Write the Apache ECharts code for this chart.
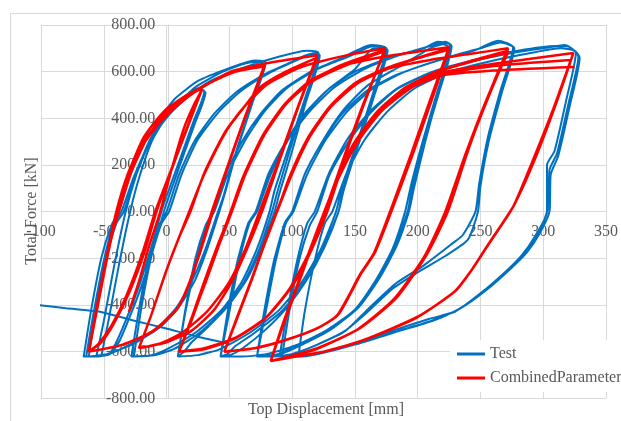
<!DOCTYPE html>
<html>
<head>
<meta charset="utf-8">
<script src="https://cdn.jsdelivr.net/npm/echarts@6/dist/echarts.min.js"></script>
<style>
  html, body { margin: 0; padding: 0; background: #fff; }
  #chart { width: 621px; height: 421px; }
</style>
</head>
<body>
<div id="chart"></div>
<script>
var seriesNames = ['Test', 'CombinedParameter'];

// test: first stray branch coming in from the left
var testStart = [[-105,-398],[-80,-414],[-54,-428],[-28,-464],[-1,-500],[25,-536],[50,-566]];

// test: one array per cycle (reload to peak, then unload to next corner)
var testCycles = [
  [[-52,-621],[-46,-460],[-38,-230],[-29,0],[-21,160],[-11,310],[3,430],[17,500],[26,530],[30,515],
   [21,380],[9,200],[-3,20],[-12,-150],[-22,-320],[-32,-460],[-40,-560],[-46,-612],[-56,-621]],
  [[-50,-470],[-42,-240],[-33,-10],[-24,160],[-14,300],[0,420],[15,495],[25,525],[31,510],
   [22,370],[10,190],[-1,20],[-10,-150],[-20,-320],[-30,-460],[-38,-560],[-46,-613],[-66,-621]],
  [[-60,-420],[-52,-200],[-44,-60],[-38,0],[-29,165],[-20,280],[-12,364],[0,440],[7,486],[25,560],[50,615],[70,648],[79,640],
   [68,460],[56,260],[46,70],[42,0],[33,-150],[23,-290],[11,-400],[-4,-490],[-24,-560],[-44,-605],[-54,-621],[-64,-621]],
  [[-58,-430],[-50,-210],[-42,-50],[-36,0],[-26,150],[-16,270],[-6,360],[6,440],[22,530],[45,600],[68,640],[78,632],
   [67,450],[55,250],[45,60],[41,0],[31,-160],[20,-300],[8,-410],[-8,-500],[-28,-566],[-45,-608],[-62,-621]],
  [[-56,-420],[-48,-200],[-40,-50],[-34,0],[-24,160],[-14,290],[-2,390],[14,480],[35,560],[60,615],[90,665],[112,690],[121,680],
   [110,480],[97,270],[86,90],[82,0],[72,-160],[60,-300],[44,-420],[24,-515],[2,-585],[-12,-615],[-28,-621]],
  [[-22,-420],[-14,-200],[-6,-60],[0,0],[10,160],[22,300],[38,420],[55,510],[75,580],[97,635],[114,675],[121,668],
   [110,470],[98,260],[88,80],[84,0],[74,-160],[62,-300],[46,-420],[26,-520],[6,-588],[-10,-616],[-26,-621]],
  [[-20,-410],[-12,-190],[-4,-50],[2,0],[12,160],[25,310],[42,430],[60,520],[82,595],[104,650],[118,680],[122,670],
   [111,470],[100,260],[90,80],[86,0],[76,-150],[64,-290],[48,-410],[30,-510],[20,-560],[14,-600],[9,-621]],
  [[15,-420],[23,-200],[31,-60],[37,0],[47,160],[60,300],[75,420],[92,520],[115,600],[140,660],[163,714],[175,700],
   [164,500],[152,300],[140,110],[135,0],[123,-160],[108,-300],[90,-420],[66,-520],[42,-590],[25,-615],[9,-621]],
  [[15,-430],[24,-210],[32,-50],[38,0],[48,150],[62,300],[78,430],[96,530],[120,610],[145,665],[165,710],[176,692],
   [165,490],[153,290],[141,100],[137,0],[125,-150],[110,-300],[92,-425],[70,-520],[55,-575],[48,-612],[43,-621]],
  [[49,-430],[57,-210],[65,-50],[71,0],[82,160],[96,300],[112,430],[130,530],[150,610],[165,700],[175,690],
   [164,480],[152,280],[141,90],[137,0],[126,-150],[112,-290],[96,-410],[78,-510],[62,-580],[52,-612],[43,-621]],
  [[49,-420],[57,-200],[65,-60],[71,0],[81,160],[95,300],[110,420],[128,520],[150,600],[180,665],[205,700],[216,728],[226,714],
   [216,520],[205,320],[195,120],[190,0],[180,-160],[166,-300],[150,-420],[127,-510],[102,-575],[80,-610],[60,-621],[43,-621]],
  [[50,-430],[58,-210],[66,-50],[72,0],[83,160],[97,310],[114,430],[133,530],[157,610],[185,670],[210,710],[222,728],[227,710],
   [217,510],[206,310],[196,110],[192,0],[182,-150],[168,-290],[152,-410],[130,-505],[105,-572],[88,-612],[72,-621]],
  [[78,-430],[86,-210],[94,-50],[100,0],[110,160],[124,300],[140,430],[160,540],[185,620],[210,700],[220,718],[226,700],
   [216,500],[206,300],[197,100],[193,0],[183,-150],[169,-290],[153,-410],[131,-505],[108,-570],[90,-612],[72,-621]],
  [[78,-420],[86,-200],[94,-60],[100,0],[110,160],[124,300],[140,420],[160,520],[185,590],[215,645],[245,690],[264,733],[276,704],
   [266,520],[256,320],[249,120],[246,0],[236,-100],[228,-135],[205,-230],[183,-306],[160,-420],[143,-508],[120,-570],[100,-610],[85,-621],[72,-621]],
  [[79,-430],[87,-210],[95,-50],[101,0],[112,160],[127,310],[144,430],[165,530],[190,600],[220,655],[250,700],[266,725],[277,700],
   [267,510],[257,310],[250,110],[248,0],[240,-120],[222,-190],[200,-260],[180,-330],[158,-440],[140,-520],[118,-575],[100,-612],[92,-621]],
  [[98,-420],[106,-200],[114,-60],[120,0],[130,160],[145,300],[162,420],[182,520],[208,590],[240,640],[275,680],[305,705],[317,714],[326,680],
   [318,470],[309,260],[303,200],[303,0],[293,-110],[283,-186],[270,-257],[250,-350],[230,-428],[209,-460],[180,-510],[143,-579],[120,-610],[105,-621],[90,-621]],
  [[96,-430],[104,-210],[112,-50],[118,0],[129,160],[144,310],[162,430],[184,530],[212,600],[245,650],[280,690],[310,710],[320,708],[328,664],
   [320,460],[311,250],[305,180],[304,20],[296,-100],[285,-180],[272,-250],[252,-345],[232,-420],[210,-470],[182,-515],[146,-575],[122,-608],[105,-621]],
  [[110,-430],[118,-210],[126,-50],[132,0],[143,160],[158,310],[176,430],[198,530],[226,600],[258,645],[290,680],[314,700],[325,690],[329,660],
   [321,450],[312,240],[306,160],[305,0],[297,-95],[287,-175],[274,-245],[255,-335],[234,-415],[212,-468],[185,-512],[150,-570],[125,-605],[110,-621]]
];

// combined parameter model
var combinedStart = [[-30,-430]];
var combinedCycles = [
  [[-22,-300],[-14,-150],[-5,0],[5,200],[14,360],[22,460],[28,520],
   [18,380],[4,180],[-8,0],[-18,-180],[-30,-350],[-42,-480],[-52,-560],[-62,-600]],
  [[-56,-430],[-48,-200],[-40,-10],[-30,170],[-18,320],[-2,430],[16,500],[28,525],
   [17,370],[3,170],[-9,0],[-20,-190],[-32,-360],[-44,-490],[-54,-565],[-62,-600]],
  [[-56,-420],[-48,-200],[-40,0],[-31,160],[-20,290],[-9,364],[5,450],[25,521],[51,600],[66,620],[78,628],
   [62,400],[47,170],[36,0],[26,-180],[17,-320],[8,-420],[-10,-510],[-35,-570],[-62,-600]],
  [[-55,-410],[-47,-190],[-39,0],[-29,170],[-17,300],[-4,390],[12,470],[32,545],[55,600],[78,622],
   [63,410],[48,180],[37,0],[27,-170],[18,-310],[8,-420],[-12,-515],[-36,-572],[-62,-600]],
  [[-55,-400],[-46,-150],[-38,0],[-28,170],[-15,320],[0,430],[20,510],[45,580],[72,628],[95,650],[120,670],
   [104,440],[88,200],[74,0],[62,-170],[49,-310],[32,-430],[12,-520],[-5,-565],[-22,-585]],
  [[-12,-440],[0,-250],[10,-110],[18,0],[30,160],[48,350],[62,450],[75,535],[95,600],[120,660],
   [105,450],[90,220],[76,0],[64,-160],[52,-300],[38,-420],[20,-510],[0,-560],[-22,-585]],
  [[-12,-440],[0,-250],[10,-110],[19,0],[30,165],[47,345],[62,450],[80,545],[105,615],[120,640],[145,672],[174,700],
   [160,500],[145,280],[128,0],[115,-170],[100,-320],[80,-450],[55,-540],[30,-585],[10,-600]],
  [[20,-460],[32,-290],[42,-140],[52,0],[62,150],[78,330],[95,460],[115,560],[140,630],[174,693],
   [159,490],[144,270],[127,0],[114,-175],[99,-325],[79,-455],[54,-545],[30,-588],[10,-600]],
  [[20,-455],[31,-285],[41,-140],[51,-5],[61,145],[77,325],[94,455],[115,555],[142,625],[174,688],
   [158,480],[143,260],[126,0],[113,-180],[98,-330],[78,-460],[53,-548],[30,-590],[10,-600]],
  [[20,-465],[31,-300],[41,-150],[51,0],[61,150],[77,330],[94,460],[114,560],[140,625],[180,670],[225,705],
   [210,480],[195,250],[178,0],[165,-180],[154,-271],[136,-443],[120,-500],[95,-550],[70,-585],[46,-600]],
  [[56,-460],[68,-290],[78,-140],[88,0],[98,150],[113,320],[130,450],[150,550],[175,615],[200,660],[225,700],
   [211,475],[196,245],[179,0],[166,-175],[155,-265],[137,-440],[121,-497],[96,-548],[71,-584],[46,-600]],
  [[56,-455],[68,-285],[78,-135],[88,5],[99,155],[114,325],[131,455],[152,555],[178,620],[203,662],[225,695],
   [210,470],[195,240],[178,0],[165,-180],[154,-270],[136,-445],[120,-500],[95,-550],[70,-586],[46,-600]],
  [[56,-460],[68,-290],[78,-140],[88,0],[99,150],[114,320],[131,450],[152,550],[178,615],[210,650],[240,675],[272,700],
   [258,520],[240,260],[224,0],[207,-186],[183,-370],[154,-500],[120,-585],[100,-617],[83,-640]],
  [[93,-480],[104,-320],[114,-170],[126,0],[136,150],[150,300],[168,430],[190,530],[215,600],[245,650],[272,690],
   [257,500],[239,250],[223,0],[206,-190],[182,-372],[153,-502],[120,-587],[100,-618],[83,-640]],
  [[93,-475],[104,-315],[114,-165],[126,5],[137,155],[151,305],[169,435],[191,535],[216,600],[246,648],[272,682],
   [256,495],[238,245],[222,0],[205,-195],[181,-375],[152,-505],[120,-588],[100,-619],[83,-640]],
  [[93,-480],[104,-320],[114,-170],[126,0],[137,150],[151,300],[170,430],[193,530],[215,590],[250,625],[290,655],[324,680],
   [310,460],[293,220],[277,30],[265,-70],[255,-150],[243,-250],[230,-340],[200,-450],[157,-550],[125,-600],[104,-620],[83,-640]],
  [[93,-485],[104,-325],[114,-175],[126,0],[138,155],[153,305],[172,435],[196,535],[220,590],[255,620],[290,638],[322,650],
   [308,440],[291,210],[276,20],[264,-80],[254,-160],[242,-258],[229,-345],[199,-455],[156,-553],[124,-602],[103,-621],[83,-640]],
  [[93,-485],[104,-325],[114,-175],[126,0],[138,155],[153,305],[172,435],[196,535],[220,585],[260,605],[300,615],[325,620]]
];

function joinCycles(start, cycles) {
  var out = start.slice();
  cycles.forEach(function (c) { out = out.concat(c); });
  return out;
}

var font = '"Liberation Serif", "Times New Roman", serif';
var grey = '#595959';
var gridGrey = '#d9d9d9';

var chart = echarts.init(document.getElementById('chart'));
chart.setOption({
  animation: false,
  grid: { left: 41, top: 25, width: 570.5, height: 373.3 },
  xAxis: {
    type: 'value', min: -100, max: 350, interval: 50,
    // labels sit on the zero line of the force axis
    offset: -186.65,
    axisLine: { show: true, onZero: false, lineStyle: { color: gridGrey } },
    axisTick: { show: false },
    splitLine: { lineStyle: { color: gridGrey } },
    axisLabel: { fontFamily: font, fontSize: 16, color: grey, margin: 12,
                 showMinLabel: true, showMaxLabel: true, hideOverlap: false }
  },
  yAxis: {
    type: 'value', min: -800, max: 800, interval: 200,
    offset: -127.3,
    axisLine: { show: true, onZero: false, lineStyle: { color: gridGrey } },
    axisTick: { show: false },
    splitLine: { lineStyle: { color: gridGrey } },
    axisLabel: { fontFamily: font, fontSize: 16, color: grey, margin: 13,
                 formatter: function (v) { return v.toFixed(2); } }
  },
  legend: {
    data: seriesNames,
    orient: 'vertical', left: 450, top: 340,
    backgroundColor: '#fff', padding: [6, 10, 6, 7],
    icon: 'rect', itemWidth: 28, itemHeight: 3, itemGap: 8,
    textStyle: { fontFamily: font, fontSize: 16, color: grey }
  },
  graphic: [
    { type: 'rect', z: -10, silent: true,
      shape: { x: 10.5, y: 13.5, width: 700, height: 500 },
      style: { fill: 'none', stroke: gridGrey, lineWidth: 1 } },
    { type: 'text', x: 32, y: 211, rotation: Math.PI / 2, z: 1,
      style: { text: 'Total Force [kN]', font: '16px ' + font, fill: grey,
               textAlign: 'center', textVerticalAlign: 'middle' } },
    { type: 'text', x: 326, y: 410, z: 1,
      style: { text: 'Top Displacement [mm]', font: '16px ' + font, fill: grey,
               textAlign: 'center', textVerticalAlign: 'middle' } }
  ],
  series: [
    { name: seriesNames[0], type: 'line', symbol: 'none', smooth: 0.2, data: testStart,
      lineStyle: { color: '#0070C0', width: 2 }, itemStyle: { color: '#0070C0' } },
    { name: seriesNames[0], type: 'line', symbol: 'none', smooth: 0.2, data: joinCycles([], testCycles),
      lineStyle: { color: '#0070C0', width: 2 }, itemStyle: { color: '#0070C0' } },
    { name: seriesNames[1], type: 'line', symbol: 'none', smooth: 0.2, data: joinCycles(combinedStart, combinedCycles),
      lineStyle: { color: '#FF0000', width: 2.5 }, itemStyle: { color: '#FF0000' } }
  ]
});
</script>
</body>
</html>
